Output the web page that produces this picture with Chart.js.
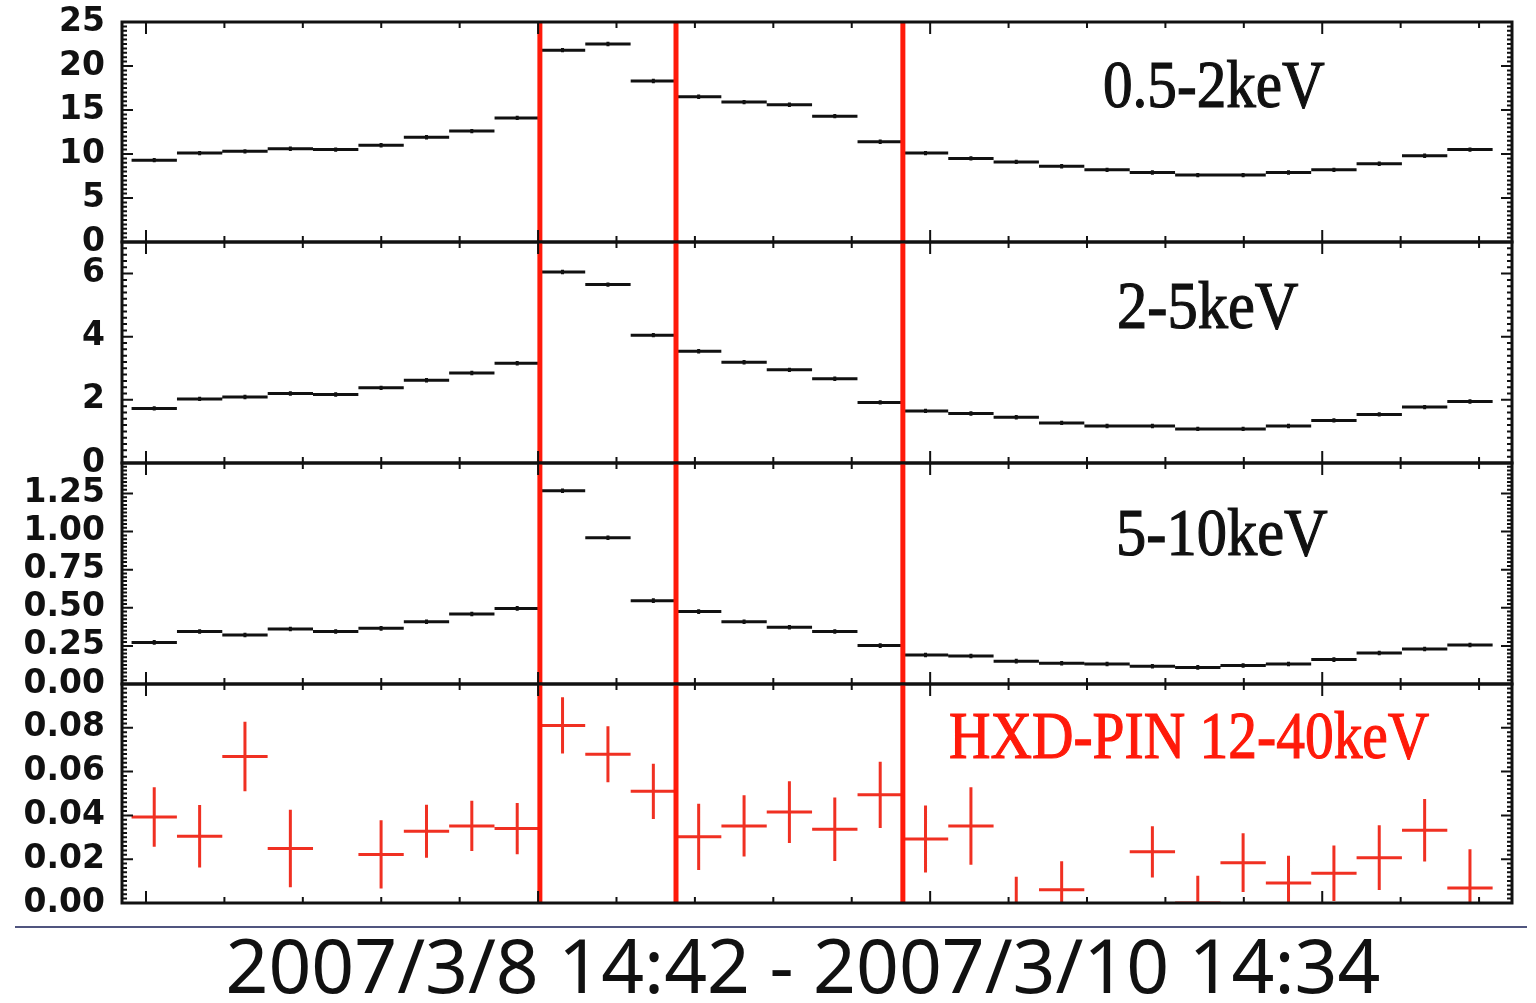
<!DOCTYPE html>
<html>
<head>
<meta charset="utf-8">
<title>Suzaku light curves 2007/3/8 - 2007/3/10</title>
<script src="https://cdn.jsdelivr.net/npm/chart.js@4.4.1/dist/chart.umd.min.js"></script>
<style>
  body { margin: 0; background: #fff; width: 1536px; height: 1003px; overflow: hidden; position: relative; }
  canvas { position: absolute; left: 0; }
  #rule { position: absolute; left: 15px; top: 926px; width: 1512px; border-top: 2px solid #50557f; }
  #caption { position: absolute; left: 0; top: 927px; width: 1606px; text-align: center;
             font-family: "Noto Sans", sans-serif; font-size: 75px; line-height: 75px; color: #111; }
</style>
</head>
<body>
<div id="rule"></div>
<div id="caption">2007/3/8 14:42 - 2007/3/10 14:34</div>
<script>
// Time bins (centre, ks from start) - one bin per orbit
const binTimes = [1.05, 6.84, 12.62, 18.41, 24.19, 29.98, 35.77, 41.55, 47.34, 53.12,
                  58.91, 64.70, 70.48, 76.27, 82.05, 87.84, 93.63, 99.41, 105.20, 110.98,
                  116.77, 122.56, 128.34, 134.13, 139.91, 145.70, 151.49, 157.27, 163.06, 168.84];
const binHalfWidth = 2.89;

// Red marker lines (ks)
const eventTimes = [50.23, 67.59, 96.52];

// x tick marks (ks), no labels
const xTickValues = [0, 10, 20, 30, 40, 50, 60, 70, 80, 90, 100, 110, 120, 130, 140, 150, 160, 170];
const xMajorTicks = [0, 50, 100, 150];

// Count rates
const soft = [9.3, 10.1, 10.3, 10.6, 10.5, 11.0, 11.9, 12.6, 14.1, 21.8,
              22.5, 18.3, 16.5, 15.9, 15.6, 14.3, 11.4, 10.1, 9.5, 9.1,
              8.6, 8.2, 7.9, 7.6, 7.6, 7.9, 8.2, 8.9, 9.8, 10.5];
const softErr = 0.25;

const medium = [1.73, 2.03, 2.09, 2.20, 2.17, 2.38, 2.62, 2.85, 3.16, 6.05,
                5.65, 4.05, 3.54, 3.19, 2.95, 2.67, 1.92, 1.65, 1.57, 1.45,
                1.27, 1.17, 1.17, 1.08, 1.08, 1.17, 1.35, 1.54, 1.77, 1.95];
const mediumErr = 0.07;

const hard = [0.273, 0.344, 0.321, 0.361, 0.344, 0.365, 0.409, 0.459, 0.496, 1.268,
              0.960, 0.547, 0.475, 0.409, 0.372, 0.344, 0.252, 0.190, 0.184, 0.150,
              0.136, 0.131, 0.116, 0.109, 0.121, 0.131, 0.160, 0.203, 0.230, 0.256];
const hardErr = 0.015;

const pin = [0.0393, 0.0305, 0.0669, 0.0249, -0.018, 0.0222, 0.0328, 0.0352, 0.0340, 0.0811,
             0.0679, 0.0510, 0.0302, 0.0352, 0.0415, 0.0337, 0.0494, 0.0292, 0.0352, -0.006,
             0.0061, -0.025, 0.0234, 0.0, 0.0184, 0.0091, 0.0136, 0.0207, 0.0332, 0.0068];
const pinErr = [0.0136, 0.0143, 0.0159, 0.0177, 0.0185, 0.0156, 0.0121, 0.0115, 0.0117, 0.0128,
                0.0128, 0.0126, 0.0151, 0.0140, 0.0141, 0.0145, 0.0151, 0.0153, 0.0177, 0.0180,
                0.0130, 0.0150, 0.0117, 0.0125, 0.0134, 0.0125, 0.0127, 0.0148, 0.0143, 0.0177];

const panels = [
  { label: '0.5-2keV', values: soft, errs: softErr, top: 22, bottom: 242, max: 25, step: 5, minor: 0.5,
    decimals: 0, color: '#111', labelColor: '#111', labelAt: [981, 85], labelScale: 0.87, showTop: true },
  { label: '2-5keV', values: medium, errs: mediumErr, top: 242, bottom: 463, max: 7, step: 2, minor: 0.2,
    decimals: 0, color: '#111', labelColor: '#111', labelAt: [995, 86], labelScale: 0.89, showTop: false },
  { label: '5-10keV', values: hard, errs: hardErr, top: 463, bottom: 684, max: 1.45, step: 0.25, minor: 0.025,
    decimals: 2, color: '#111', labelColor: '#111', labelAt: [994, 92], labelScale: 0.89, showTop: false },
  { label: 'HXD-PIN 12-40keV', values: pin, errs: pinErr, top: 684, bottom: 903, max: 0.1, step: 0.02, minor: 0.002,
    decimals: 2, color: 'rgb(240,48,34)', labelColor: '#ff1a0a', labelAt: [827, 74], labelScale: 0.845, showTop: false }
];

const eventColor = '#ff1a0a';
const pad = 20;

// horizontal bin-width bar + vertical error bar per bin, broken by null points
function errorSegments(values, errs) {
  const pts = [];
  values.forEach((v, i) => {
    const t = binTimes[i];
    const e = Array.isArray(errs) ? errs[i] : errs;
    pts.push({ x: t - binHalfWidth, y: v }, { x: t + binHalfWidth, y: v }, { x: t, y: null });
    pts.push({ x: t, y: v - e }, { x: t, y: v + e }, { x: t, y: null });
  });
  return pts;
}

function makeDecor(panel) {
  return {
    id: 'decor',
    afterDatasetsDraw(chart) {
      const { ctx, chartArea: a, scales: { x, y } } = chart;
      ctx.save();
      ctx.lineCap = 'butt';

      // red marker lines
      ctx.strokeStyle = eventColor;
      ctx.lineWidth = 5;
      eventTimes.forEach(t => {
        const px = x.getPixelForValue(t);
        ctx.beginPath();
        ctx.moveTo(px, a.top);
        ctx.lineTo(px, a.bottom);
        ctx.stroke();
      });

      // frame
      ctx.strokeStyle = '#111';
      ctx.lineWidth = 3;
      ctx.strokeRect(a.left, a.top, a.right - a.left, a.bottom - a.top);

      // inward tick marks
      ctx.lineWidth = 2;
      ctx.beginPath();
      xTickValues.forEach(t => {
        const px = x.getPixelForValue(t);
        const len = xMajorTicks.includes(t) ? 12 : 6;
        ctx.moveTo(px, a.top); ctx.lineTo(px, a.top + len);
        ctx.moveTo(px, a.bottom); ctx.lineTo(px, a.bottom - len);
      });
      const n = Math.round(panel.max / panel.minor);
      const per = Math.round(panel.step / panel.minor);
      for (let k = 0; k <= n; k++) {
        const py = y.getPixelForValue(k * panel.minor);
        const len = k % per === 0 ? 11 : 5;
        ctx.moveTo(a.left, py); ctx.lineTo(a.left + len, py);
        ctx.moveTo(a.right, py); ctx.lineTo(a.right - len, py);
      }
      ctx.stroke();

      // band label (condensed serif, slightly heavier)
      ctx.font = '68px "Liberation Serif"';
      ctx.fillStyle = panel.labelColor;
      ctx.strokeStyle = panel.labelColor;
      ctx.lineWidth = 1.2;
      ctx.textAlign = 'left';
      ctx.textBaseline = 'alphabetic';
      ctx.translate(a.left + panel.labelAt[0], a.top + panel.labelAt[1]);
      ctx.scale(panel.labelScale, 1);
      ctx.fillText(panel.label, 0, 0);
      ctx.strokeText(panel.label, 0, 0);
      ctx.restore();
    }
  };
}

panels.forEach(panel => {
  const canvas = document.createElement('canvas');
  const h = panel.bottom - panel.top + 2 * pad;
  canvas.width = 1536;
  canvas.height = h;
  canvas.style.top = (panel.top - pad) + 'px';
  canvas.style.width = '1536px';
  canvas.style.height = h + 'px';
  document.body.appendChild(canvas);

  new Chart(canvas.getContext('2d'), {
    type: 'scatter',
    data: {
      datasets: [{
        data: errorSegments(panel.values, panel.errs),
        showLine: true,
        spanGaps: false,
        borderColor: panel.color,
        borderWidth: 3,
        pointRadius: 0,
        pointHoverRadius: 0
      }]
    },
    options: {
      responsive: false,
      animation: false,
      devicePixelRatio: 1,
      events: [],
      layout: { padding: { left: 0, right: 24, top: pad, bottom: pad } },
      plugins: { legend: { display: false }, tooltip: { enabled: false } },
      scales: {
        x: { type: 'linear', min: -3.06, max: 174.2, display: false },
        y: {
          type: 'linear',
          min: 0,
          max: panel.max,
          grid: { display: false, drawTicks: false },
          border: { display: false },
          afterFit: s => {
            s.width = 122;
            s.paddingTop = 0;
            s.paddingBottom = 0;
          },
          afterBuildTicks: s => {
            if (!panel.showTop) s.ticks = s.ticks.filter(t => t.value < panel.max - panel.minor / 2);
          },
          ticks: {
            stepSize: panel.step,
            includeBounds: panel.showTop,
            autoSkip: false,
            padding: 17,
            color: '#111',
            font: { family: 'DejaVu Sans', weight: 'bold', size: 33 },
            callback: v => Number(v).toFixed(panel.decimals)
          }
        }
      }
    },
    plugins: [makeDecor(panel)]
  });
});
</script>
</body>
</html>
